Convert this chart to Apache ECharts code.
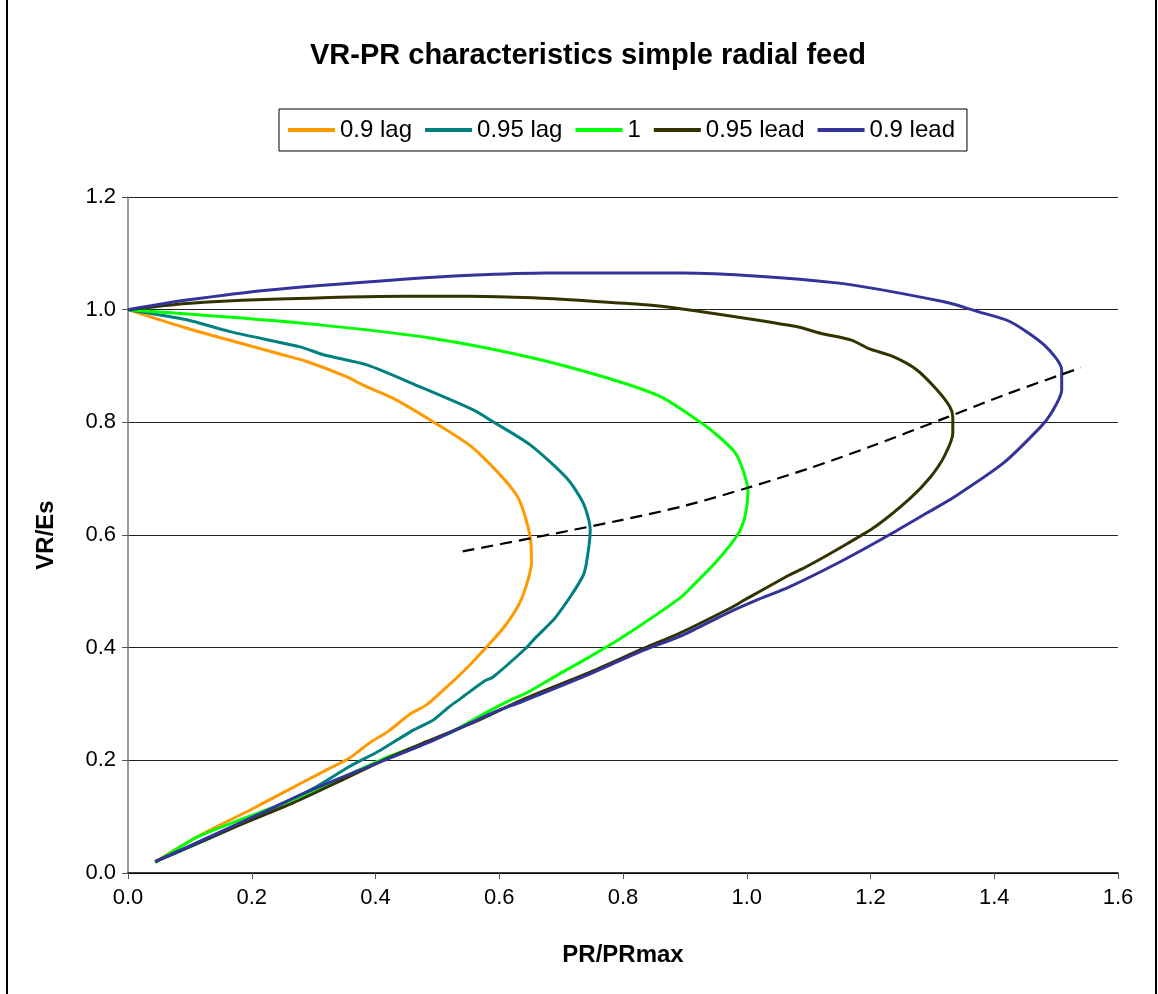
<!DOCTYPE html>
<html>
<head>
<meta charset="utf-8">
<script src="https://cdn.jsdelivr.net/npm/echarts@6/dist/echarts.min.js"></script>
<style>
html,body{margin:0;padding:0;background:#fff;}
#chart{width:1158px;height:994px;}
</style>
</head>
<body>
<div id="chart"></div>
<script>
// ---- Data (PR/PRmax, VR/Es) ----
const seriesNames = ['0.9 lag', '0.95 lag', '1', '0.95 lead', '0.9 lead'];
const seriesColors = ['#FF9900', '#008080', '#00FF00', '#333300', '#333399'];

const lag090 = [
  [0,1.0],[0.095,0.967],[0.250,0.920],[0.289,0.908],[0.353,0.881],[0.380,0.866],
  [0.428,0.843],[0.493,0.801],[0.558,0.754],[0.628,0.671],[0.650,0.597],[0.652,0.550],
  [0.643,0.508],[0.630,0.473],[0.606,0.434],[0.575,0.396],[0.544,0.360],[0.513,0.328],
  [0.482,0.298],[0.457,0.283],[0.420,0.251],[0.389,0.230],[0.358,0.204],[0.321,0.183],
  [0.284,0.162],[0.253,0.144],[0.203,0.115],[0.111,0.064],[0.044,0.020]
];
const lag095 = [
  [0,1.0],[0.095,0.982],[0.165,0.961],[0.278,0.934],[0.316,0.920],[0.386,0.902],
  [0.472,0.863],[0.558,0.822],[0.590,0.801],[0.650,0.760],[0.709,0.701],[0.736,0.656],
  [0.747,0.609],[0.744,0.573],[0.736,0.529],[0.692,0.455],[0.658,0.417],[0.643,0.399],
  [0.590,0.348],[0.575,0.340],[0.538,0.310],[0.519,0.295],[0.494,0.272],[0.457,0.251],
  [0.408,0.218],[0.358,0.189],[0.296,0.148],[0.173,0.082],[0.044,0.020]
];
const unity = [
  [0,1.0],[0.149,0.988],[0.310,0.973],[0.493,0.949],[0.644,0.917],[0.768,0.881],
  [0.860,0.846],[0.924,0.801],[0.946,0.783],[0.980,0.748],[0.994,0.715],[1.002,0.677],
  [0.997,0.632],[0.985,0.600],[0.951,0.553],[0.911,0.508],[0.892,0.488],[0.797,0.417],
  [0.742,0.381],[0.698,0.354],[0.643,0.319],[0.618,0.307],[0.581,0.286],[0.513,0.245],
  [0.420,0.206],[0.278,0.135],[0.116,0.066],[0.044,0.018]
];
const lead095 = [
  [0,1.0],[0.095,1.011],[0.219,1.018],[0.445,1.024],[0.553,1.024],[0.655,1.021],
  [0.763,1.014],[0.846,1.008],[0.930,0.996],[1.080,0.970],[1.119,0.958],[1.169,0.946],
  [1.197,0.931],[1.236,0.917],[1.275,0.893],[1.308,0.857],[1.328,0.828],[1.333,0.810],
  [1.333,0.781],[1.319,0.739],[1.297,0.703],[1.264,0.665],[1.208,0.615],[1.163,0.585],
  [1.097,0.544],[1.069,0.529],[0.997,0.485],[0.973,0.470],[0.892,0.426],[0.834,0.399],
  [0.748,0.357],[0.636,0.307],[0.568,0.272],[0.482,0.233],[0.420,0.204],[0.346,0.165],
  [0.266,0.124],[0.173,0.082],[0.044,0.020]
];
const lead090 = [
  [0,1.0],[0.095,1.017],[0.229,1.035],[0.445,1.054],[0.553,1.061],[0.677,1.065],
  [0.896,1.065],[1.141,1.048],[1.319,1.014],[1.375,0.996],[1.425,0.979],[1.481,0.937],
  [1.509,0.893],[1.509,0.857],[1.492,0.816],[1.475,0.792],[1.414,0.727],[1.336,0.668],
  [1.291,0.639],[1.230,0.600],[1.152,0.553],[1.069,0.508],[1.013,0.483],[0.968,0.461],
  [0.896,0.422],[0.828,0.393],[0.748,0.354],[0.636,0.304],[0.593,0.286],[0.482,0.230],
  [0.389,0.189],[0.296,0.147],[0.203,0.100],[0.044,0.020]
];
const maxLocus = [
  [0.541,0.571],[0.650,0.594],[0.795,0.626],[0.900,0.652],[1.002,0.684],[1.100,0.718],
  [1.200,0.757],[1.319,0.807],[1.420,0.850],[1.540,0.897]
];

const curveData = [lag090, lag095, unity, lead095, lead090];

const FONT = '"Liberation Sans", Arial, sans-serif';
const chart = echarts.init(document.getElementById('chart'), null, {renderer: 'canvas'});

const series = curveData.map((d, i) => ({
  name: seriesNames[i],
  type: 'line',
  data: d,
  showSymbol: false,
  symbol: 'none',
  smooth: 0.25,
  lineStyle: {color: seriesColors[i], width: 3},
  itemStyle: {color: seriesColors[i]},
  z: 2 + i
}));
series.push({
  name: 'locus',
  type: 'line',
  data: maxLocus,
  showSymbol: false,
  symbol: 'none',
  smooth: 0.3,
  lineStyle: {color: '#000', width: 2.2, type: [12, 7]},
  z: 10
});

chart.setOption({
  animation: false,
  backgroundColor: '#fff',
  title: {
    text: 'VR-PR characteristics simple radial feed',
    left: 583, textAlign: 'center', top: 36,
    textStyle: {fontFamily: FONT, fontSize: 29, fontWeight: 'bold', color: '#000'}
  },
  legend: {
    data: seriesNames,
    left: 279, top: 109,
    padding: [9, 12, 9, 9],
    borderColor: '#000', borderWidth: 1,
    itemWidth: 47, itemHeight: 4, itemGap: 13,
    icon: 'rect',
    textStyle: {fontFamily: FONT, fontSize: 24, color: '#000'}
  },
  grid: {left: 128, right: 40, top: 197, bottom: 121, containLabel: false},
  xAxis: {
    type: 'value', min: 0, max: 1.6, interval: 0.2,
    name: 'PR/PRmax', nameLocation: 'middle', nameGap: 70,
    nameTextStyle: {fontFamily: FONT, fontSize: 24, fontWeight: 'bold', color: '#000'},
    axisLine: {show: true, onZero: false, lineStyle: {color: '#000', width: 1.5}},
    axisTick: {show: true, length: 6, lineStyle: {color: '#555'}},
    axisLabel: {margin: 14, fontFamily: FONT, fontSize: 22, color: '#000',
      formatter: v => v.toFixed(1)},
    splitLine: {show: false}
  },
  yAxis: {
    type: 'value', min: 0, max: 1.2, interval: 0.2,
    name: 'VR/Es', nameLocation: 'middle', nameGap: 70, nameRotate: 90,
    nameTextStyle: {fontFamily: FONT, fontSize: 24, fontWeight: 'bold', color: '#000'},
    axisLine: {show: true, onZero: false, lineStyle: {color: '#777', width: 1.5}},
    axisTick: {show: true, length: 6, lineStyle: {color: '#555'}},
    axisLabel: {margin: 12, fontFamily: FONT, fontSize: 22, color: '#000',
      formatter: v => v.toFixed(1)},
    splitLine: {show: true, lineStyle: {color: '#222', width: 1}}
  },
  graphic: [
    {type: 'line', shape: {x1: 7, y1: 0, x2: 7, y2: 994}, style: {stroke: '#000', lineWidth: 2}},
    {type: 'line', shape: {x1: 1156, y1: 0, x2: 1156, y2: 994}, style: {stroke: '#000', lineWidth: 2}}
  ],
  series: series
});
</script>
</body>
</html>
